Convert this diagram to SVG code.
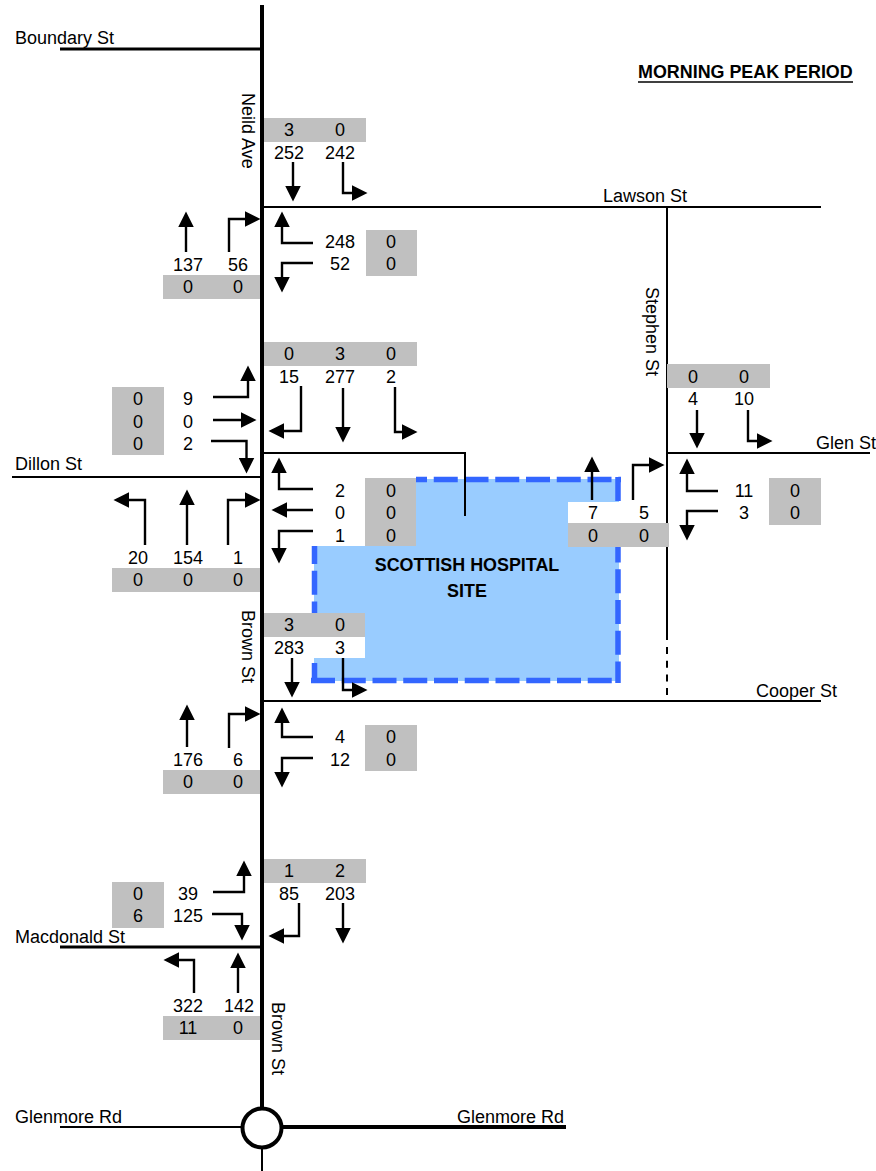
<svg xmlns="http://www.w3.org/2000/svg" width="876" height="1171" viewBox="0 0 876 1171">
<style>
text{font-family:"Liberation Sans",Arial,sans-serif;font-size:18px;fill:#000}
.n{text-anchor:middle}
.b{font-weight:bold;font-size:17.9px}
.g{fill:#c0c0c0}
.w{fill:#fff}
.r{fill:none;stroke:#000;stroke-width:2}
.t{fill:none;stroke:#000;stroke-width:4}
.m{fill:none;stroke:#000;stroke-width:3}
.a{fill:none;stroke:#000;stroke-width:2.4;marker-end:url(#h)}
.d{fill:none;stroke:#3366ff;stroke-width:5.5;stroke-dasharray:24 6.75}
</style>
<defs>
<marker id="h" markerUnits="userSpaceOnUse" markerWidth="16" markerHeight="16" viewBox="0 0 15 15" refX="7" refY="7.5" orient="auto"><path d="M0 0L15 7.5L0 15Z" fill="#000"/></marker>
</defs>
<rect width="876" height="1171" fill="#fff"/>
<g id="site">
<path d="M416 479H619V681H314V546H416Z" fill="#99ccff"/>
<path class="d" d="M416 479.5H621" stroke-dashoffset="13"/>
<path class="d" d="M618 477V683"/>
<path class="d" d="M311 680.5H618"/>
<path class="d" d="M314.5 546V683" stroke-dashoffset="6"/>
<text class="n b" x="467" y="571">SCOTTISH HOSPITAL</text>
<text class="n b" x="467" y="597">SITE</text>
</g>
<g id="connectors">
<path class="t" d="M262 5V1110"/>
<path class="r" d="M262 1147V1171"/>
<path class="m" d="M60 49H262"/>
<path class="m" d="M60 947H262"/>
<path class="r" d="M262 207H821"/>
<path class="r" d="M667 207V640"/>
<path class="r" d="M667 647V696" stroke-dasharray="7 6.7"/>
<path class="r" d="M667 453H870"/>
<path class="r" d="M12 477H262"/>
<path class="r" d="M262 453H465V516"/>
<path class="r" d="M262 701H821"/>
<path class="r" d="M60 1127H242"/>
<path class="t" d="M282 1127H566"/>
<circle cx="262" cy="1128" r="19.5" fill="#fff" stroke="#000" stroke-width="4"/>
</g>
<g id="count-boxes">
<rect class="g" x="264" y="118" width="102" height="24"/>
<rect class="g" x="366" y="230" width="51" height="46"/>
<rect class="g" x="163" y="275" width="97" height="24"/>
<rect class="g" x="264" y="342" width="153" height="24"/>
<rect class="g" x="112" y="387" width="52" height="68"/>
<rect class="g" x="112" y="568" width="148" height="24"/>
<rect class="g" x="365" y="478" width="51" height="68"/>
<rect class="g" x="264" y="613" width="101" height="24"/>
<rect class="w" x="264" y="637" width="101" height="21"/>
<rect class="g" x="163" y="770" width="97" height="24"/>
<rect class="g" x="365" y="725" width="52" height="46"/>
<rect class="g" x="264" y="859" width="102" height="24"/>
<rect class="g" x="112" y="882" width="52" height="46"/>
<rect class="g" x="163" y="1016" width="97" height="24"/>
<rect class="g" x="667" y="364" width="103" height="24"/>
<rect class="g" x="769" y="478" width="52" height="47"/>
<rect class="w" x="568" y="502" width="54" height="22"/>
<rect class="g" x="568" y="523" width="101" height="24"/>
</g>
<g id="arrows">
<path class="a" d="M293 162V193"/>
<path class="a" d="M343 162V193H359"/>
<path class="a" d="M186 252V220"/>
<path class="a" d="M229 252V219H252"/>
<path class="a" d="M313 243H282V220"/>
<path class="a" d="M313 263H282V284"/>
<path class="a" d="M301 386V431H277"/>
<path class="a" d="M343 388V434"/>
<path class="a" d="M395 387V432H409"/>
<path class="a" d="M213 397H248V374"/>
<path class="a" d="M213 420H248"/>
<path class="a" d="M211 441H246.500V465"/>
<path class="a" d="M145 545V500H122"/>
<path class="a" d="M187 545V498"/>
<path class="a" d="M228 545V500H252"/>
<path class="a" d="M313 489H279V466"/>
<path class="a" d="M313 510H280"/>
<path class="a" d="M313 531H279V555"/>
<path class="a" d="M292 658V689"/>
<path class="a" d="M343 658V690H359"/>
<path class="a" d="M187 747V713"/>
<path class="a" d="M229 748V714H252"/>
<path class="a" d="M313 737H282V716"/>
<path class="a" d="M313 758H282V779"/>
<path class="a" d="M299 903V936H277"/>
<path class="a" d="M343 903V935"/>
<path class="a" d="M213 892H244V869"/>
<path class="a" d="M212 914H242V932"/>
<path class="a" d="M194 993V960H172"/>
<path class="a" d="M238 993V961"/>
<path class="a" d="M697 410V440"/>
<path class="a" d="M748 410V441H764"/>
<path class="a" d="M718 491H687V467"/>
<path class="a" d="M718 511H687V532"/>
<path class="a" d="M592 500V465"/>
<path class="a" d="M633 500V465H656"/>
</g>
<g id="street-labels">
<text x="15" y="44">Boundary St</text>
<text x="603" y="202">Lawson St</text>
<text x="816" y="449">Glen St</text>
<text x="15" y="470">Dillon St</text>
<text x="756" y="697">Cooper St</text>
<text x="15" y="943">Macdonald St</text>
<text x="15" y="1123">Glenmore Rd</text>
<text x="457" y="1123">Glenmore Rd</text>
<text transform="translate(242 93) rotate(90)">Neild Ave</text>
<text transform="translate(646 287) rotate(90)">Stephen St</text>
<text transform="translate(242 610) rotate(90)">Brown St</text>
<text transform="translate(272 1002) rotate(90)">Brown St</text>
</g>
<g id="title">
<text class="b" x="638" y="78">MORNING PEAK PERIOD</text>
<path d="M638 82H853" stroke="#000" stroke-width="1.5"/>
</g>
<g id="counts-lawson">
<text class="n" x="289" y="136">3</text><text class="n" x="340" y="136">0</text>
<text class="n" x="289" y="159">252</text><text class="n" x="340" y="159">242</text>
<text class="n" x="188" y="271">137</text><text class="n" x="238" y="271">56</text>
<text class="n" x="188" y="293">0</text><text class="n" x="238" y="293">0</text>
<text class="n" x="340" y="248">248</text><text class="n" x="340" y="270">52</text>
<text class="n" x="391" y="248">0</text><text class="n" x="391" y="270">0</text>
</g>
<g id="counts-dillon">
<text class="n" x="289" y="360">0</text><text class="n" x="340" y="360">3</text><text class="n" x="391" y="360">0</text>
<text class="n" x="289" y="383">15</text><text class="n" x="340" y="383">277</text><text class="n" x="391" y="383">2</text>
<text class="n" x="138" y="405">0</text><text class="n" x="138" y="428">0</text><text class="n" x="138" y="450">0</text>
<text class="n" x="188" y="405">9</text><text class="n" x="188" y="428">0</text><text class="n" x="188" y="450">2</text>
<text class="n" x="138" y="564">20</text><text class="n" x="188" y="564">154</text><text class="n" x="238" y="564">1</text>
<text class="n" x="138" y="586">0</text><text class="n" x="188" y="586">0</text><text class="n" x="238" y="586">0</text>
<text class="n" x="340" y="497">2</text><text class="n" x="340" y="519">0</text><text class="n" x="340" y="542">1</text>
<text class="n" x="391" y="497">0</text><text class="n" x="391" y="519">0</text><text class="n" x="391" y="542">0</text>
</g>
<g id="counts-cooper">
<text class="n" x="289" y="631">3</text><text class="n" x="340" y="631">0</text>
<text class="n" x="289" y="654">283</text><text class="n" x="340" y="654">3</text>
<text class="n" x="188" y="766">176</text><text class="n" x="238" y="766">6</text>
<text class="n" x="188" y="788">0</text><text class="n" x="238" y="788">0</text>
<text class="n" x="340" y="743">4</text><text class="n" x="340" y="766">12</text>
<text class="n" x="391" y="743">0</text><text class="n" x="391" y="766">0</text>
</g>
<g id="counts-macdonald">
<text class="n" x="289" y="877">1</text><text class="n" x="340" y="877">2</text>
<text class="n" x="289" y="900">85</text><text class="n" x="340" y="900">203</text>
<text class="n" x="138" y="900">0</text><text class="n" x="138" y="922">6</text>
<text class="n" x="188" y="900">39</text><text class="n" x="188" y="922">125</text>
<text class="n" x="188" y="1012">322</text><text class="n" x="239" y="1012">142</text>
<text class="n" x="188" y="1034">11</text><text class="n" x="238" y="1034">0</text>
</g>
<g id="counts-glen">
<text class="n" x="693" y="383">0</text><text class="n" x="744" y="383">0</text>
<text class="n" x="693" y="405">4</text><text class="n" x="744" y="405">10</text>
<text class="n" x="744" y="497">11</text><text class="n" x="744" y="519">3</text>
<text class="n" x="795" y="497">0</text><text class="n" x="795" y="519">0</text>
<text class="n" x="593" y="519">7</text><text class="n" x="644" y="519">5</text>
<text class="n" x="593" y="542">0</text><text class="n" x="644" y="542">0</text>
</g>
</svg>
